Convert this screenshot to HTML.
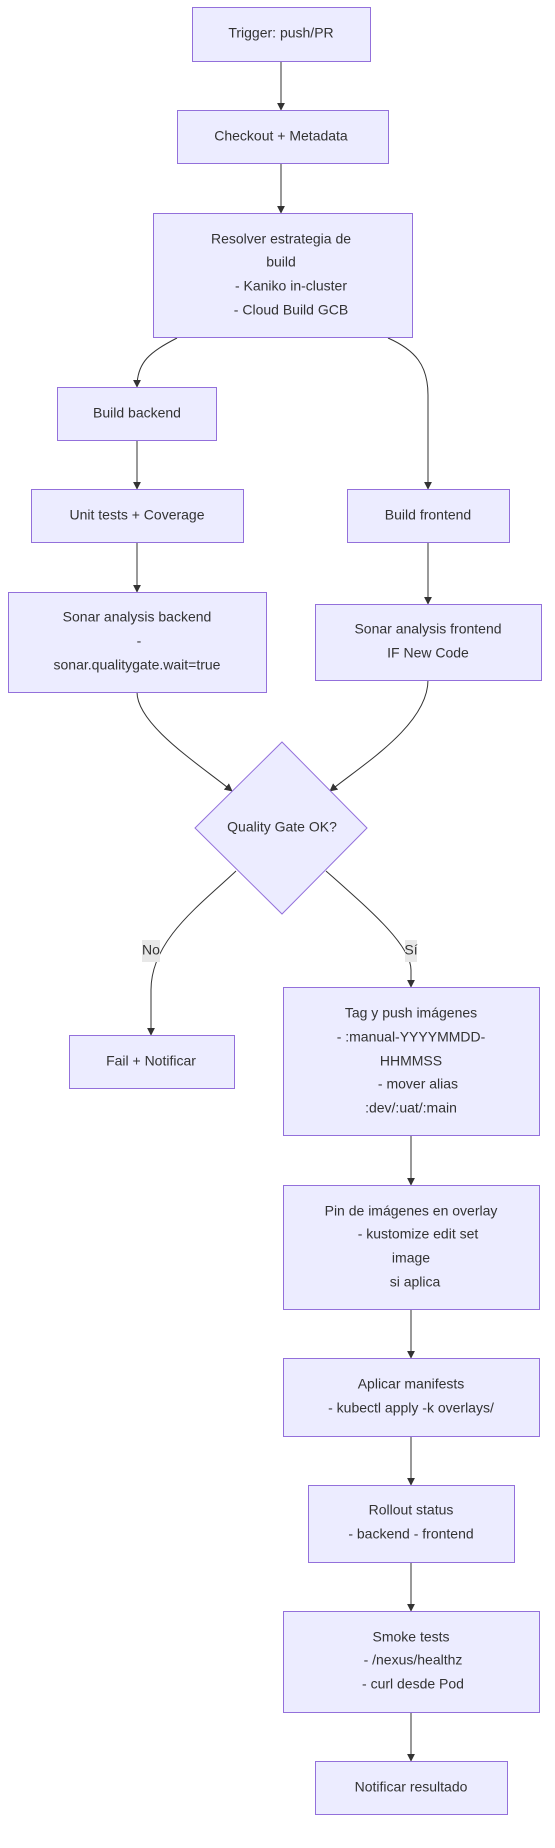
<!DOCTYPE html>
<html><head><meta charset="utf-8"><style>
html,body{margin:0;padding:0;background:#fff;}
svg{display:block;}
text{font-family:"Liberation Sans",sans-serif;font-size:14px;fill:#333;text-anchor:middle;dominant-baseline:middle;}
.b{fill:#ECECFF;stroke:#9370DB;stroke-width:1;}
.e{fill:none;stroke:#333;stroke-width:1;}
</style></head><body>
<svg width="555" height="1848" viewBox="0 0 555 1848" xmlns="http://www.w3.org/2000/svg">
<defs><marker id="a" viewBox="0 0 10 10" refX="9" refY="5" markerWidth="8" markerHeight="8" orient="auto"><path d="M0,0 L10,5 L0,10 z" fill="#333"/></marker></defs>
<!-- edges -->
<path class="e" d="M281,61 V110" marker-end="url(#a)"/>
<path class="e" d="M281,163 V213" marker-end="url(#a)"/>
<path class="e" d="M177,338 C150,352 137,362 137,387" marker-end="url(#a)"/>
<path class="e" d="M388,338 C415,350 428,365 428,395 V489" marker-end="url(#a)"/>
<path class="e" d="M137,440 V489" marker-end="url(#a)"/>
<path class="e" d="M137,542 V592" marker-end="url(#a)"/>
<path class="e" d="M428,542 V604" marker-end="url(#a)"/>
<path class="e" d="M137,692 C137,725 200,765 232,791" marker-end="url(#a)"/>
<path class="e" d="M428,680 C428,725 362,765 330,791" marker-end="url(#a)"/>
<path class="e" d="M236,871 C200,905 151,940 151,990 V1035" marker-end="url(#a)"/>
<path class="e" d="M326,871 C370,910 411,945 411,970 V987" marker-end="url(#a)"/>
<path class="e" d="M411,1135 V1185" marker-end="url(#a)"/>
<path class="e" d="M411,1309 V1358" marker-end="url(#a)"/>
<path class="e" d="M411,1436 V1485" marker-end="url(#a)"/>
<path class="e" d="M411,1562 V1611" marker-end="url(#a)"/>
<path class="e" d="M411,1712 V1761" marker-end="url(#a)"/>
<!-- edge labels -->
<rect x="142" y="940" width="18" height="22" fill="#e8e8e8"/><text x="151" y="951">No</text>
<rect x="405" y="940" width="12" height="22" fill="#e8e8e8"/><text x="411" y="951">Sí</text>
<!-- nodes -->
<rect class="b" x="192.5" y="7.5" width="178" height="54"/><text x="281" y="34">Trigger: push/PR</text>
<rect class="b" x="177.5" y="110.5" width="211" height="53"/><text x="281" y="137">Checkout + Metadata</text>
<rect class="b" x="153.5" y="213.5" width="259" height="124"/>
<text x="281" y="240">Resolver estrategia de</text><text x="281" y="263">build</text><text x="291" y="287">- Kaniko in-cluster</text><text x="291" y="311">- Cloud Build GCB</text>
<rect class="b" x="57.5" y="387.5" width="159" height="53"/><text x="137" y="414">Build backend</text>
<rect class="b" x="31.5" y="489.5" width="212" height="53"/><text x="137" y="516">Unit tests + Coverage</text>
<rect class="b" x="347.5" y="489.5" width="162" height="53"/><text x="428" y="516">Build frontend</text>
<rect class="b" x="8.5" y="592.5" width="258" height="100"/>
<text x="137" y="618">Sonar analysis backend</text><text x="139" y="642">-</text><text x="137" y="666">sonar.qualitygate.wait=true</text>
<rect class="b" x="315.5" y="604.5" width="226" height="76"/>
<text x="428" y="630">Sonar analysis frontend</text><text x="428" y="654">IF New Code</text>
<polygon class="b" points="282,742 367,828 282,914 195,828"/><text x="282" y="828">Quality Gate OK?</text>
<rect class="b" x="69.5" y="1035.5" width="165" height="53"/><text x="151" y="1062">Fail + Notificar</text>
<rect class="b" x="283.5" y="987.5" width="256" height="148"/>
<text x="411" y="1014">Tag y push imágenes</text><text x="411" y="1038">- :manual-YYYYMMDD-</text><text x="411" y="1062">HHMMSS</text><text x="418" y="1085">- mover alias</text><text x="411" y="1109">:dev/:uat/:main</text>
<rect class="b" x="283.5" y="1185.5" width="256" height="124"/>
<text x="411" y="1212">Pin de imágenes en overlay</text><text x="418" y="1235">- kustomize edit set</text><text x="411" y="1259">image</text><text x="415" y="1283">si aplica</text>
<rect class="b" x="283.5" y="1358.5" width="256" height="78"/>
<text x="411" y="1385">Aplicar manifests</text><text x="411" y="1409">- kubectl apply -k overlays/</text>
<rect class="b" x="308.5" y="1485.5" width="206" height="77"/>
<text x="411" y="1511">Rollout status</text><text x="411" y="1535">- backend - frontend</text>
<rect class="b" x="283.5" y="1611.5" width="256" height="101"/>
<text x="411" y="1638">Smoke tests</text><text x="413" y="1661">- /nexus/healthz</text><text x="413" y="1685">- curl desde Pod</text>
<rect class="b" x="315.5" y="1761.5" width="192" height="53"/><text x="411" y="1788">Notificar resultado</text>
</svg>
</body></html>
